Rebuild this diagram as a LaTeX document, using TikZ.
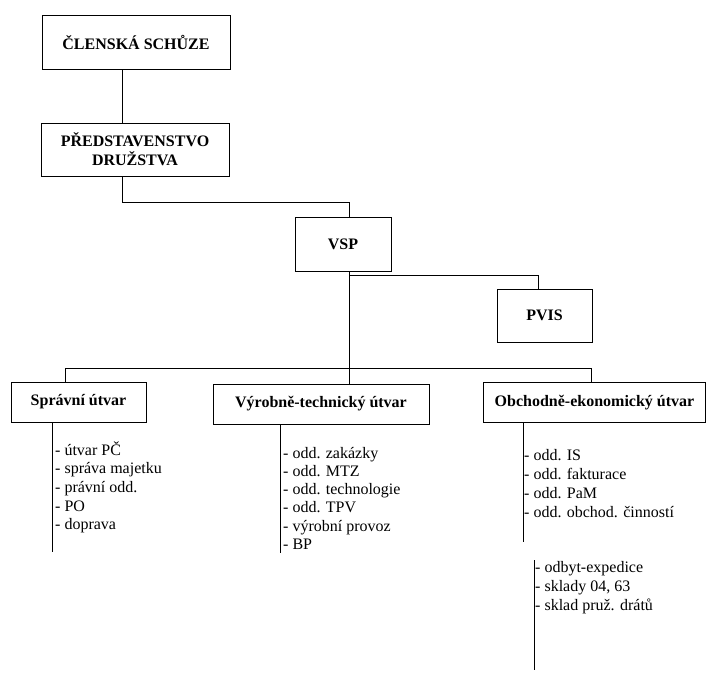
\documentclass[tikz,border=0pt]{standalone}
\usepackage{fontspec}
\setmainfont{Liberation Serif}
\begin{document}
\begin{tikzpicture}[x=1pt,y=-1pt,
  orgbox/.style={draw,line width=0.9pt,inner sep=0pt,align=center,
    font=\fontsize{16}{19}\selectfont\bfseries},
  conn/.style={line width=0.9pt},
  listtxt/.style={inner sep=0pt,anchor=base west,align=left,
    font=\fontsize{16}{18.7}\selectfont}]
\useasboundingbox (0,0) rectangle (709,673);
% boxes
\node[orgbox,minimum width=188pt,minimum height=54pt] (cs) at (136,42) {ČLENSKÁ SCHŮZE};
\node[orgbox,minimum width=188pt,minimum height=53pt] (pd) at (135,149.5) {PŘEDSTAVENSTVO\\DRUŽSTVA};
\node[orgbox,minimum width=96pt,minimum height=54pt] (vsp) at (343,244) {VSP};
\node[orgbox,minimum width=95pt,minimum height=53pt] (pvis) at (544.5,315.5) {PVIS};
\node[orgbox,minimum width=135pt,minimum height=40pt] (spr) at (78.5,402) {Správní útvar};
\node[orgbox,minimum width=216pt,minimum height=40pt] (vyr) at (321,404) {Výrobně-technický útvar};
\node[orgbox,minimum width=222pt,minimum height=40pt] (obc) at (594.5,402.5) {Obchodně-ekonomický útvar};
% helper coordinates
\coordinate (x1) at (122,0);
\coordinate (j1) at (349,202);
\coordinate (x2) at (349,0);
\coordinate (j2) at (538,275);
\coordinate (busL) at (65,368);
\coordinate (busR) at (591,368);
\coordinate (sprEnd) at (52,552);
\coordinate (vyrEnd) at (280,553);
\coordinate (obcEnd) at (523,542);
\coordinate (odbTop) at (534,560);
\coordinate (odbEnd) at (534,670);
% connectors
\draw[conn] (cs.south -| x1) -- (pd.north -| x1);
\draw[conn] (pd.south -| x1) |- (j1) -- (vsp.north -| x2);
\draw[conn] (vsp.south -| x2) |- (j2) -- (pvis.north -| j2);
\draw[conn] (vsp.south -| x2) -- (vyr.north -| x2);
\draw[conn] (spr.north -| busL) -- (busL) -- (busR) -- (obc.north -| busR);
\draw[conn] (spr.south -| sprEnd) -- (sprEnd);
\draw[conn] (vyr.south -| vyrEnd) -- (vyrEnd);
\draw[conn] (obc.south -| obcEnd) -- (obcEnd);
\draw[conn] (odbTop) -- (odbEnd);
% lists (anchor = baseline of the last line)
\node[listtxt] (l1) at (55,529.8) {- útvar PČ\\- správa majetku\\- právní odd.\\- PO\\- doprava};
\node[listtxt,font=\fontsize{16}{18.3}\selectfont] (l2) at (283,549.5) {- odd. zakázky\\- odd. MTZ\\- odd. technologie\\- odd. TPV\\- výrobní provoz\\- BP};
\node[listtxt,font=\fontsize{16}{19}\selectfont] (l3) at (524,517) {- odd. IS\\- odd. fakturace\\- odd. PaM\\- odd. obchod. činností};
\node[listtxt,font=\fontsize{16}{19}\selectfont] (l4) at (535,610) {- odbyt-expedice\\- sklady 04, 63\\- sklad pruž. drátů};
\end{tikzpicture}
\end{document}
